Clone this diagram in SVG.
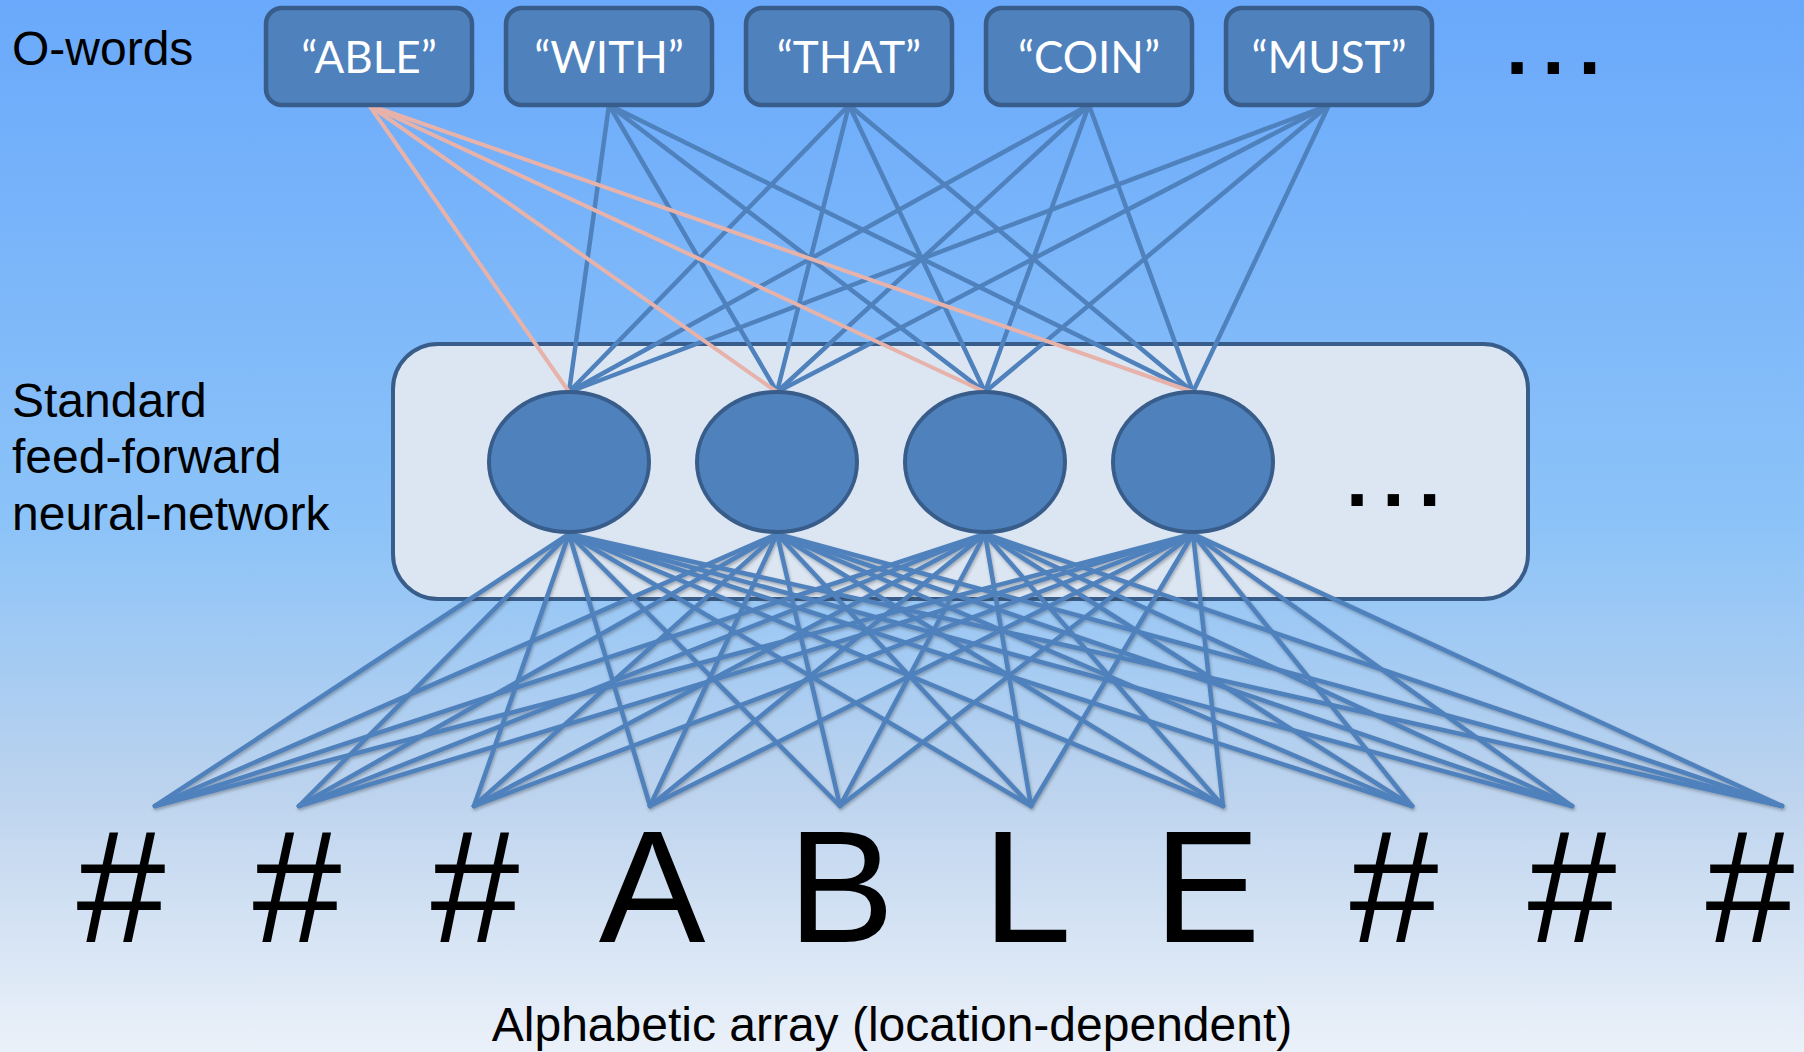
<svg xmlns="http://www.w3.org/2000/svg" width="1804" height="1052" viewBox="0 0 1804 1052">
  <defs>
    <linearGradient id="bg" x1="0" y1="0" x2="0" y2="1">
      <stop offset="0" stop-color="#6aa9fb"/>
      <stop offset="0.5" stop-color="#8cc3f8"/>
      <stop offset="0.75" stop-color="#bcd3ee"/>
      <stop offset="1" stop-color="#ebf1f9"/>
    </linearGradient>
    <filter id="shadow" x="-5%" y="-5%" width="110%" height="110%">
      <feDropShadow dx="1" dy="2" stdDeviation="1.5" flood-color="#333333" flood-opacity="0.35"/>
    </filter>
  </defs>
  <style>
    .lbl { font-family: "Liberation Sans", Arial, sans-serif; font-size: 48px; fill: #000000; }
    .word { font-family: Lato, "Open Sans", sans-serif; font-size: 44px; fill: #ffffff; text-anchor: middle; }
    .big { font-family: "Liberation Sans", Arial, sans-serif; font-size: 160px; fill: #000000; text-anchor: middle; }
    .dots { font-family: "Liberation Sans", Arial, sans-serif; font-weight: bold; font-size: 80px; fill: #000000; letter-spacing: 14px; }
    .obox { fill: #4f81bd; stroke: #385d8a; stroke-width: 4.5; }
    .hid { fill: #4f81bd; stroke: #385d8a; stroke-width: 4; }
    .net { fill: #dce6f2; stroke: #385d8a; stroke-width: 4; }
    .c { stroke: #4f81bd; stroke-width: 4.5; stroke-linecap: round; }
    .p { stroke: #e6b2aa; stroke-width: 4; stroke-linecap: round; }
  </style>

  <rect x="0" y="0" width="1804" height="1052" fill="url(#bg)"/>

  <g id="network-box">
    <rect class="net" x="393" y="344" width="1135" height="255" rx="45" ry="45"/>
    <text class="dots" x="1346" y="506">...</text>
  </g>

  <g id="connectors">
    <g id="lower-connectors" filter="url(#shadow)">
      <line class="c" x1="569" y1="534" x2="155" y2="806"/>
      <line class="c" x1="569" y1="534" x2="299" y2="806"/>
      <line class="c" x1="569" y1="534" x2="474" y2="806"/>
      <line class="c" x1="569" y1="534" x2="650" y2="806"/>
      <line class="c" x1="569" y1="534" x2="840" y2="806"/>
      <line class="c" x1="569" y1="534" x2="1031" y2="806"/>
      <line class="c" x1="569" y1="534" x2="1223" y2="806"/>
      <line class="c" x1="569" y1="534" x2="1412" y2="806"/>
      <line class="c" x1="569" y1="534" x2="1572" y2="806"/>
      <line class="c" x1="569" y1="534" x2="1782" y2="806"/>
      <line class="c" x1="777" y1="534" x2="155" y2="806"/>
      <line class="c" x1="777" y1="534" x2="299" y2="806"/>
      <line class="c" x1="777" y1="534" x2="474" y2="806"/>
      <line class="c" x1="777" y1="534" x2="650" y2="806"/>
      <line class="c" x1="777" y1="534" x2="840" y2="806"/>
      <line class="c" x1="777" y1="534" x2="1031" y2="806"/>
      <line class="c" x1="777" y1="534" x2="1223" y2="806"/>
      <line class="c" x1="777" y1="534" x2="1412" y2="806"/>
      <line class="c" x1="777" y1="534" x2="1572" y2="806"/>
      <line class="c" x1="777" y1="534" x2="1782" y2="806"/>
      <line class="c" x1="985" y1="534" x2="155" y2="806"/>
      <line class="c" x1="985" y1="534" x2="299" y2="806"/>
      <line class="c" x1="985" y1="534" x2="474" y2="806"/>
      <line class="c" x1="985" y1="534" x2="650" y2="806"/>
      <line class="c" x1="985" y1="534" x2="840" y2="806"/>
      <line class="c" x1="985" y1="534" x2="1031" y2="806"/>
      <line class="c" x1="985" y1="534" x2="1223" y2="806"/>
      <line class="c" x1="985" y1="534" x2="1412" y2="806"/>
      <line class="c" x1="985" y1="534" x2="1572" y2="806"/>
      <line class="c" x1="985" y1="534" x2="1782" y2="806"/>
      <line class="c" x1="1193" y1="534" x2="155" y2="806"/>
      <line class="c" x1="1193" y1="534" x2="299" y2="806"/>
      <line class="c" x1="1193" y1="534" x2="474" y2="806"/>
      <line class="c" x1="1193" y1="534" x2="650" y2="806"/>
      <line class="c" x1="1193" y1="534" x2="840" y2="806"/>
      <line class="c" x1="1193" y1="534" x2="1031" y2="806"/>
      <line class="c" x1="1193" y1="534" x2="1223" y2="806"/>
      <line class="c" x1="1193" y1="534" x2="1412" y2="806"/>
      <line class="c" x1="1193" y1="534" x2="1572" y2="806"/>
      <line class="c" x1="1193" y1="534" x2="1782" y2="806"/>
    </g>
    <g id="upper-connectors">
      <line class="c" x1="609" y1="105" x2="569" y2="392"/>
      <line class="c" x1="609" y1="105" x2="777" y2="392"/>
      <line class="c" x1="609" y1="105" x2="985" y2="392"/>
      <line class="c" x1="609" y1="105" x2="1193" y2="392"/>
      <line class="c" x1="849" y1="105" x2="569" y2="392"/>
      <line class="c" x1="849" y1="105" x2="777" y2="392"/>
      <line class="c" x1="849" y1="105" x2="985" y2="392"/>
      <line class="c" x1="849" y1="105" x2="1193" y2="392"/>
      <line class="c" x1="1089" y1="105" x2="569" y2="392"/>
      <line class="c" x1="1089" y1="105" x2="777" y2="392"/>
      <line class="c" x1="1089" y1="105" x2="985" y2="392"/>
      <line class="c" x1="1089" y1="105" x2="1193" y2="392"/>
      <line class="c" x1="1329" y1="105" x2="569" y2="392"/>
      <line class="c" x1="1329" y1="105" x2="777" y2="392"/>
      <line class="c" x1="1329" y1="105" x2="985" y2="392"/>
      <line class="c" x1="1329" y1="105" x2="1193" y2="392"/>
      <line class="p" x1="369" y1="105" x2="569" y2="392"/>
      <line class="p" x1="369" y1="105" x2="777" y2="392"/>
      <line class="p" x1="369" y1="105" x2="985" y2="392"/>
      <line class="p" x1="369" y1="105" x2="1193" y2="392"/>
    </g>
  </g>

  <g id="hidden-1"><ellipse class="hid" cx="569" cy="462" rx="80" ry="70"/></g>
  <g id="hidden-2"><ellipse class="hid" cx="777" cy="462" rx="80" ry="70"/></g>
  <g id="hidden-3"><ellipse class="hid" cx="985" cy="462" rx="80" ry="70"/></g>
  <g id="hidden-4"><ellipse class="hid" cx="1193" cy="462" rx="80" ry="70"/></g>

  <g id="word-able"><rect class="obox" x="266" y="8" width="206" height="97" rx="16"/><text class="word" x="369" y="73">“ABLE”</text></g>
  <g id="word-with"><rect class="obox" x="506" y="8" width="206" height="97" rx="16"/><text class="word" x="609" y="73">“WITH”</text></g>
  <g id="word-that"><rect class="obox" x="746" y="8" width="206" height="97" rx="16"/><text class="word" x="849" y="73">“THAT”</text></g>
  <g id="word-coin"><rect class="obox" x="986" y="8" width="206" height="97" rx="16"/><text class="word" x="1089" y="73">“COIN”</text></g>
  <g id="word-must"><rect class="obox" x="1226" y="8" width="206" height="97" rx="16"/><text class="word" x="1329" y="73">“MUST”</text></g>
  <g id="word-more"><text class="dots" x="1506" y="74">...</text></g>

  <g id="labels">
    <text class="lbl" x="12" y="65">O-words</text>
    <text class="lbl" x="12" y="417">Standard</text>
    <text class="lbl" x="12" y="473">feed-forward</text>
    <text class="lbl" x="12" y="530">neural-network</text>
    <text class="lbl" x="892" y="1041" text-anchor="middle">Alphabetic array (location-dependent)</text>
  </g>

  <g id="inputs">
    <text class="big" x="121" y="942">#</text>
    <text class="big" x="297" y="942">#</text>
    <text class="big" x="475" y="942">#</text>
    <text class="big" x="652" y="942">A</text>
    <text class="big" x="841" y="942">B</text>
    <text class="big" x="1027" y="942">L</text>
    <text class="big" x="1207" y="942">E</text>
    <text class="big" x="1394" y="942">#</text>
    <text class="big" x="1572" y="942">#</text>
    <text class="big" x="1750" y="942">#</text>
  </g>
</svg>
